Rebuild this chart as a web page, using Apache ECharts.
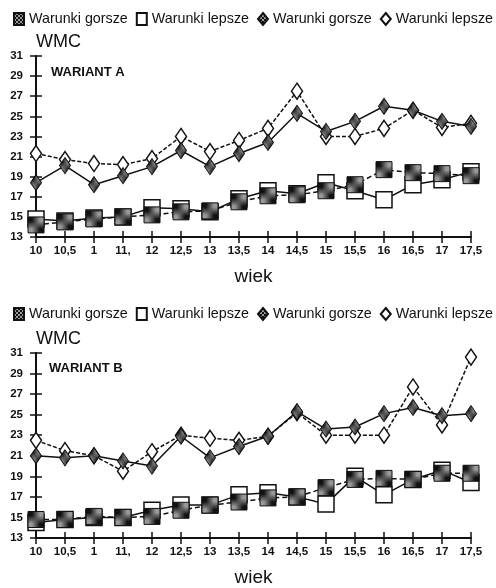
<!DOCTYPE html>
<html><head><meta charset="utf-8">
<script src="https://cdn.jsdelivr.net/npm/echarts@6/dist/echarts.min.js"></script>
<style>html,body{margin:0;padding:0;background:#fff}#c{width:496px;height:588px}</style>
</head><body><div id="c"></div>
<script>
const categories = ['10','10,5','1','11,','12','12,5','13','13,5','14','14,5','15','15,5','16','16,5','17','17,5'];
const legendLabels = ['Warunki gorsze','Warunki lepsze','Warunki gorsze','Warunki lepsze'];
// Wariant A
const aGorszeSq  = [14.2,14.5,14.8,15.0,15.2,15.5,15.6,16.5,17.1,17.2,17.6,18.2,19.7,19.4,19.3,19.1];
const aLepszeSq  = [14.8,14.6,14.9,15.0,15.9,15.8,15.5,16.8,17.6,17.3,18.4,17.6,16.7,18.2,18.7,19.5];
const aGorszeDia = [18.4,20.1,18.2,19.1,20.0,21.6,20.0,21.3,22.4,25.3,23.5,24.5,26.0,25.6,24.5,24.0];
const aLepszeDia = [21.3,20.7,20.3,20.2,20.8,23.0,21.5,22.6,23.8,27.5,23.0,23.0,23.8,25.6,23.9,24.3];
// Wariant B
const bGorszeSq  = [14.8,14.8,15.1,15.0,15.1,15.7,16.2,16.5,16.9,17.0,17.9,18.7,18.8,18.7,19.3,19.3];
const bLepszeSq  = [14.5,14.8,15.0,15.0,15.7,16.2,16.2,17.2,17.4,17.0,16.3,19.0,17.2,18.7,19.6,18.4];
const bGorszeDia = [21.0,20.8,21.0,20.5,20.0,22.9,20.8,21.9,22.9,25.3,23.6,23.8,25.1,25.7,24.9,25.1];
const bLepszeDia = [22.5,21.5,21.0,19.5,21.4,23.0,22.7,22.5,22.9,25.2,23.0,23.0,23.0,27.7,24.0,30.6];

// hatched pattern for filled markers
const pc = document.createElement('canvas');
pc.width = 4; pc.height = 4;
const px = pc.getContext('2d');
px.fillStyle = '#999'; px.fillRect(0,0,4,4);
px.fillStyle = '#111';
px.fillRect(0,0,2,2); px.fillRect(2,2,2,2);
const hatch = {image: pc, repeat: 'repeat'};

const FONT = '"Liberation Sans", Arial, sans-serif';
const chart = echarts.init(document.getElementById('c'), null, {renderer:'canvas'});

const grids = [
  {left:36, right:25, top:56, height:181},
  {left:36, right:25, top:353, height:188}
];

function xAx(gi, inside){
  return {
    type:'category', gridIndex:gi, data:categories, boundaryGap:false,
    position:'bottom',
    name: inside ? '' : 'wiek', nameLocation:'middle', nameGap:30,
    nameTextStyle:{fontFamily:FONT, fontSize:19, color:'#111'},
    axisLine:{show:!inside, onZero:false, lineStyle:{color:'#111', width:2}},
    axisTick:{show:true, inside:inside, length:6, lineStyle:{color:'#111', width:1.5}},
    axisLabel:{show:!inside, interval:0, margin:8, fontFamily:FONT, fontSize:11.5, fontWeight:'bold', color:'#111'},
    splitLine:{show:false}
  };
}
function yAx(gi, inside){
  return {
    type:'value', gridIndex:gi, min:13, max:31, interval:2,
    position:'left',
    name: inside ? '' : 'WMC', nameLocation:'end', nameGap:5,
    nameTextStyle:{fontFamily:FONT, fontSize:18, color:'#111', align:'left'},
    axisLine:{show:!inside, onZero:false, lineStyle:{color:'#111', width:2}},
    axisTick:{show:true, inside:inside, length:6, lineStyle:{color:'#111', width:1.5}},
    axisLabel:{show:!inside, margin:13, fontFamily:FONT, fontSize:11.5, fontWeight:'bold', color:'#111'},
    splitLine:{show:false}
  };
}

function mk(name, gi, data, kind){
  const filled = kind==='sqG' || kind==='diaG';
  const sq = kind==='sqG' || kind==='sqL';
  return {
    name, type:'line', xAxisIndex:gi*2, yAxisIndex:gi*2, data,
    symbol: sq ? 'rect' : 'diamond',
    symbolSize: sq ? [16,16] : [11,16],
    showSymbol:true, animation:false,
    z: filled ? 4 : 3,
    lineStyle:{color:'#111', width:1.5,
      type: kind==='sqG' ? [5,3] : (kind==='diaL' ? [4,2] : 'solid')},
    itemStyle:{color: filled ? hatch : '#fff', borderColor:'#111', borderWidth: filled ? 1 : 1.5}
  };
}

const namesA = ['A1','A2','A3','A4'];
const namesB = ['B1','B2','B3','B4'];
const icons = ['rect','rect','diamond','diamond'];
function legendData(names){
  return names.map((n,i)=>({name:n, icon:icons[i]}));
}
const labelMap = {};
namesA.forEach((n,i)=>labelMap[n]=legendLabels[i]);
namesB.forEach((n,i)=>labelMap[n]=legendLabels[i]);

const legendCommon = {itemWidth:10, itemHeight:12, itemGap:8, padding:0, width:486,
  formatter:n=>labelMap[n], textStyle:{fontFamily:FONT, fontSize:14.3, color:'#111'}};

const option = {
  backgroundColor:'#fff',
  animation:false,
  grid: grids,
  title:[
    {text:'WARIANT A', left:46, top:61, textStyle:{fontFamily:FONT, fontSize:13, fontWeight:'bold', color:'#111'}},
    {text:'WARIANT B', left:44, top:357, textStyle:{fontFamily:FONT, fontSize:13, fontWeight:'bold', color:'#111'}}
  ],
  legend:[
    Object.assign({data:legendData(namesA), left:13, top:12}, legendCommon),
    Object.assign({data:legendData(namesB), left:13, top:307}, legendCommon)
  ],
  xAxis:[xAx(0,false), xAx(0,true), xAx(1,false), xAx(1,true)],
  yAxis:[yAx(0,false), yAx(0,true), yAx(1,false), yAx(1,true)],
  series:[
    mk('A1',0,aGorszeSq,'sqG'),
    mk('A2',0,aLepszeSq,'sqL'),
    mk('A3',0,aGorszeDia,'diaG'),
    mk('A4',0,aLepszeDia,'diaL'),
    mk('B1',1,bGorszeSq,'sqG'),
    mk('B2',1,bLepszeSq,'sqL'),
    mk('B3',1,bGorszeDia,'diaG'),
    mk('B4',1,bLepszeDia,'diaL')
  ]
};
chart.setOption(option);
</script></body></html>
